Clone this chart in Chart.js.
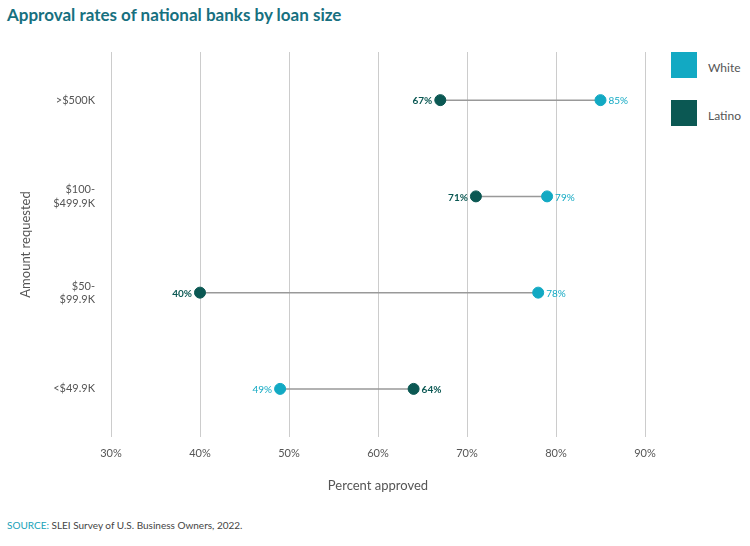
<!DOCTYPE html>
<html><head><meta charset="utf-8">
<script src="https://cdn.jsdelivr.net/npm/chart.js@4"></script>
<style>
body{margin:0;width:750px;height:546px;position:relative;font-family:Lato,"Open Sans",sans-serif;background:#fff;overflow:hidden}
#title{position:absolute;left:7px;top:4px;font-size:17px;font-weight:bold;color:#17707f}
#src{position:absolute;left:7px;top:519px;font-size:10px;color:#444}
#src b{color:#17a2b8;font-weight:normal}
.lg{position:absolute;left:671px;width:26px;height:26px}
.lt{position:absolute;left:708px;font-size:12px;color:#555}
canvas{position:absolute;left:0;top:0}
</style></head><body>
<div id="title">Approval rates of national banks by loan size</div>
<div class="lg" style="top:52px;background:#12a9c3"></div><div class="lt" style="top:60px">White</div>
<div class="lg" style="top:100px;background:#0b5853"></div><div class="lt" style="top:108px">Latino</div>
<div id="src"><b>SOURCE:</b> SLEI Survey of U.S. Business Owners, 2022.</div>
<canvas id="c" width="750" height="546"></canvas>
<script>
const categories=[">$500K","$100-\n$499.9K","$50-\n$99.9K","<$49.9K"];
const white=[85,79,78,49];
const latino=[67,71,40,64];
const xTicks=[30,40,50,60,70,80,90];
const WC="#12a9c3",LC="#0b5853";
const lineSets=categories.map((c,i)=>({type:'line',data:[{x:white[i],y:c},{x:latino[i],y:c}],borderColor:'#999',borderWidth:1.5,pointRadius:0,order:2}));
const labelPlugin={id:'lbl',afterDatasetsDraw(ch){
 const ctx=ch.ctx,xs=ch.scales.x,ys=ch.scales.y;
 categories.forEach((c,i)=>{const y=ys.getPixelForValue(i);
  [[white[i],latino[i],WC,false],[latino[i],white[i],LC,true]].forEach(([v,o,col,b])=>{
   const x=xs.getPixelForValue(v);ctx.save();ctx.font=(b?'bold ':'')+'10px Lato, sans-serif';ctx.fillStyle=col;ctx.textBaseline='middle';
   if(v>=o){ctx.textAlign='left';ctx.fillText(v+'%',x+8,y+1);}else{ctx.textAlign='right';ctx.fillText(v+'%',x-8,y+1);}
   ctx.restore();});});}};
new Chart(document.getElementById('c'),{
 data:{datasets:[...lineSets,
  {type:'scatter',label:'White',data:categories.map((c,i)=>({x:white[i],y:c})),backgroundColor:WC,borderColor:WC,pointRadius:5.5,order:1},
  {type:'scatter',label:'Latino',data:categories.map((c,i)=>({x:latino[i],y:c})),backgroundColor:LC,borderColor:LC,pointRadius:5.5,order:1}]},
 options:{responsive:false,animation:false,layout:{padding:{top:52,right:105,bottom:48,left:14}},
  plugins:{legend:{display:false},tooltip:{enabled:false}},
  scales:{
   x:{type:'linear',min:30,max:90,afterBuildTicks(a){a.ticks=xTicks.map(v=>({value:v}));},
      afterFit(a){a.height=61;},
      ticks:{callback:v=>v+'%',color:'#555',font:{size:11,family:'Lato'},padding:10},
      grid:{color:'#ccc',drawTicks:false},border:{display:false},
      title:{display:true,text:'Percent approved',color:'#555',font:{size:13,family:'Lato'},padding:{top:10}}},
   y:{type:'category',labels:categories,offset:true,afterFit(a){a.width=97;},
      ticks:{color:'#555',font:{size:11,family:'Lato'},padding:8,callback(v,i){return categories[i].split('\n');}},
      grid:{display:false},border:{display:false},
      title:{display:true,text:'Amount requested',color:'#555',font:{size:13,family:'Lato'}}}}},
 plugins:[labelPlugin]});
</script></body></html>
